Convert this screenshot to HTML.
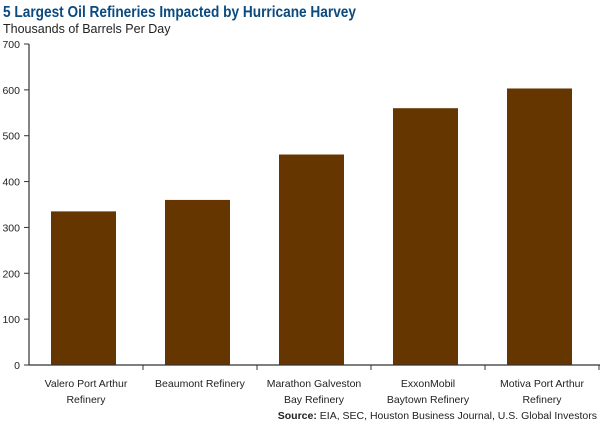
<!DOCTYPE html>
<html><head><meta charset="utf-8"><style>
body{margin:0;background:#fff;width:600px;height:425px;overflow:hidden;font-family:"Liberation Sans",sans-serif}
</style></head><body>
<svg width="600" height="425" id="c" style="font-family:'Liberation Sans',sans-serif">
<text x="3" y="17" font-size="16" font-weight="bold" fill="#0b4a7f" textLength="353" lengthAdjust="spacingAndGlyphs">5 Largest Oil Refineries Impacted by Hurricane Harvey</text>
<text x="3" y="33" font-size="12.5" fill="#222">Thousands of Barrels Per Day</text>
<text x="597" y="419" font-size="10.5" text-anchor="end" fill="#222"><tspan font-weight="bold">Source:</tspan> EIA, SEC, Houston Business Journal, U.S. Global Investors</text>
<g id="plot"></g>
</svg>
<script>
const categories=[["Valero Port Arthur","Refinery"],["Beaumont Refinery"],["Marathon Galveston","Bay Refinery"],["ExxonMobil","Baytown Refinery"],["Motiva Port Arthur","Refinery"]];
const values=[335,360,459,560,603];
const ticks=[0,100,200,300,400,500,600,700];
const NS="http://www.w3.org/2000/svg";
const g=document.getElementById('plot');
const x0=29,cw=114,y0=365,ppu=(365-44)/700;
const y=v=>y0-v*ppu;
function mk(t,a){const e=document.createElementNS(NS,t);for(const k in a)e.setAttribute(k,a[k]);g.appendChild(e);return e;}
values.forEach((v,i)=>{
 const r=mk('rect',{x:x0+i*cw+22,y:y(v),width:65,height:y0-y(v),fill:'#653600'});
 
 
 const t=mk('text',{x:x0+i*cw+cw/2,y:387,'font-size':10.5,'text-anchor':'middle',fill:'#222'});
 
 
 categories[i].forEach((l,j)=>{const s=document.createElementNS(NS,'tspan');s.setAttribute('x',x0+i*cw+cw/2);s.setAttribute('dy',j?16:0);s.textContent=l;t.appendChild(s);});
 mk('line',{x1:x0+(i+1)*cw,x2:x0+(i+1)*cw,y1:y0,y2:y0+5,stroke:'#333'});
});
ticks.forEach(v=>{
 mk('line',{x1:x0-5,x2:x0,y1:y(v),y2:y(v),stroke:'#333'});
 const t=mk('text',{x:x0-9,y:y(v)+4,'font-size':10.5,'text-anchor':'end',fill:'#222'});
 
 
 t.textContent=v;
});
const ax=mk('line',{x1:x0,x2:x0,y1:y(700),y2:y0,stroke:'#333','stroke-width':1.2});


const bx=mk('line',{x1:x0,x2:600,y1:y0,y2:y0,stroke:'#333','stroke-width':1.2});


</script>
</body></html>
